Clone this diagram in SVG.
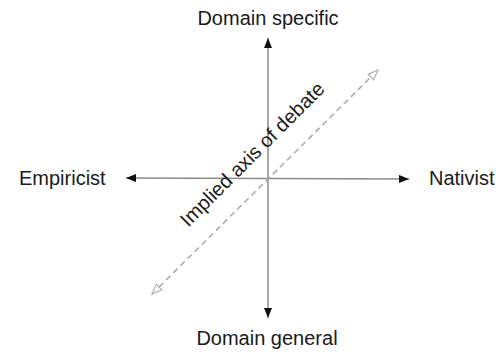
<svg xmlns="http://www.w3.org/2000/svg" width="499" height="352" viewBox="0 0 499 352">
<style>
text{font-family:"Liberation Sans",Arial,Helvetica,sans-serif;font-size:20px;fill:#1a1a1a}
.axis{stroke:#8a8a8a;stroke-width:1.5;fill:none}
.dash{stroke:#a8a8a8;stroke-width:1.5;fill:none;stroke-dasharray:6 4}
</style>
<defs>
<marker id="ah" viewBox="0 0 10 8" refX="10" refY="4" markerWidth="10" markerHeight="8" markerUnits="userSpaceOnUse" orient="auto-start-reverse">
<path d="M0,0 L10,4 L0,8 Z" fill="#111"/>
</marker>
<marker id="oh" viewBox="0 0 12 10" refX="11" refY="5" markerWidth="12" markerHeight="10" markerUnits="userSpaceOnUse" orient="auto-start-reverse">
<path d="M1,1 L11,5 L1,9 Z" fill="#fff" stroke="#a8a8a8" stroke-width="1"/>
</marker>
</defs>
<g id="connectors">
<line class="axis" x1="268" y1="318" x2="268" y2="38" marker-start="url(#ah)" marker-end="url(#ah)"/>
<line class="axis" x1="126" y1="178" x2="409" y2="179" marker-start="url(#ah)" marker-end="url(#ah)"/>
<line class="dash" x1="152" y1="294" x2="378" y2="70" marker-start="url(#oh)" marker-end="url(#oh)"/>
</g>
<g id="domain-specific"><text x="268" y="25" text-anchor="middle">Domain specific</text></g>
<g id="domain-general"><text x="267" y="345" text-anchor="middle">Domain general</text></g>
<g id="empiricist"><text x="19" y="185">Empiricist</text></g>
<g id="nativist"><text x="429" y="185">Nativist</text></g>
<g id="implied-axis"><text x="257" y="159" text-anchor="middle" transform="rotate(-45 257 159)">Implied axis of debate</text></g>
</svg>
